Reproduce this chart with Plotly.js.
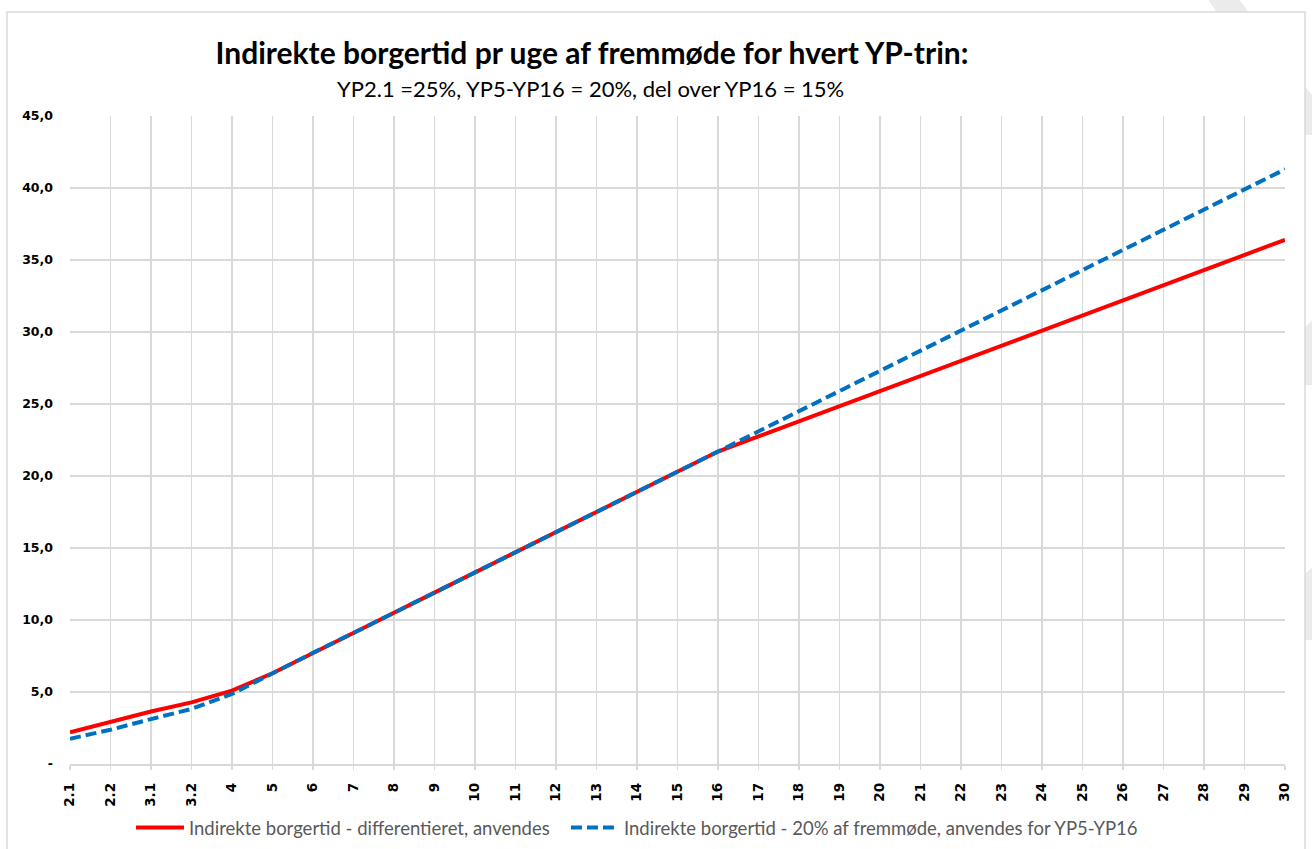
<!DOCTYPE html>
<html>
<head>
<meta charset="utf-8">
<script src="https://cdn.plot.ly/plotly-3.0.1.min.js"></script>
<style>
  html, body { margin: 0; padding: 0; background: #ffffff; }
  #chart { width: 1312px; height: 849px; }
</style>
</head>
<body>
<div id="chart"></div>
<script>
// ---- data ----
const categories = ["2.1","2.2","3.1","3.2","4","5","6","7","8","9","10","11","12","13","14","15","16","17","18","19","20","21","22","23","24","25","26","27","28","29","30"];
const redName = "Indirekte borgertid - differentieret, anvendes";
const redValues = [2.2, 2.95, 3.65, 4.28, 5.1, 6.3, 7.72, 9.1, 10.5, 11.9, 13.3, 14.7, 16.1, 17.5, 18.9, 20.3, 21.7, 22.75, 23.8, 24.85, 25.9, 26.95, 28.0, 29.05, 30.1, 31.15, 32.2, 33.25, 34.3, 35.35, 36.4];
const blueName = "Indirekte borgertid - 20% af fremmøde, anvendes for YP5-YP16";
const blueValues = [1.75, 2.38, 3.12, 3.82, 4.86, 6.3, 7.72, 9.1, 10.5, 11.9, 13.3, 14.7, 16.1, 17.5, 18.9, 20.3, 21.7, 23.1, 24.5, 25.9, 27.3, 28.7, 30.1, 31.5, 32.9, 34.3, 35.7, 37.1, 38.5, 39.9, 41.3];
const yTickValues = [0, 5, 10, 15, 20, 25, 30, 35, 40, 45];
const yTickLabels = ["-", "5,0", "10,0", "15,0", "20,0", "25,0", "30,0", "35,0", "40,0", "45,0"];
const titleText = "Indirekte borgertid pr uge af fremmøde for hvert YP-trin:";
const subtitleText = "YP2.1 =25%, YP5-YP16 = 20%, del over YP16 = 15%";

// ---- layout helpers (decoration only) ----
const W = 1312, H = 849;
const M = { l: 70, r: 27, t: 116, b: 85 };
const PW = W - M.l - M.r, PH = H - M.t - M.b;
const px = x => (x - M.l) / PW;
const py = y => (H - M.b - y) / PH;
function path(pts) {
  return pts.map((p, i) => (i ? "L" : "M") + px(p[0]).toFixed(5) + "," + py(p[1]).toFixed(5)).join(" ") + " Z";
}

const wm = "#ebebeb";
const shapes = [
  { type: "path", xref: "paper", yref: "paper", layer: "below", line: { width: 0 }, fillcolor: wm,
    path: path([[1207, -2], [1238, -2], [1312, 95], [1312, 135], [1300, 135]]) },
  { type: "path", xref: "paper", yref: "paper", layer: "below", line: { width: 0 }, fillcolor: wm,
    path: path([[1312, 320], [1312, 385], [1303, 385], [1303, 330]]) },
  { type: "path", xref: "paper", yref: "paper", layer: "below", line: { width: 0 }, fillcolor: wm,
    path: path([[1303, 575], [1312, 568], [1312, 640], [1303, 640]]) },
  { type: "rect", xref: "paper", yref: "paper", layer: "below",
    x0: px(7), x1: px(1305), y0: py(12), y1: py(870),
    line: { color: "#d9d9d9", width: 1.5 }, fillcolor: "#ffffff" }
];

const traces = [
  { type: "scatter", mode: "lines", name: redName, x: categories, y: redValues,
    line: { color: "#ff0000", width: 4 }, legend: "legend" },
  { type: "scatter", mode: "lines", name: blueName, x: categories, y: blueValues,
    line: { color: "#0070c0", width: 4, dash: "11px,5px" }, legend: "legend2" }
];

const legendFont = { family: "Lato, sans-serif", size: 18.5, color: "#595959" };

const layout = {
  width: W, height: H,
  margin: M,
  paper_bgcolor: "#ffffff",
  plot_bgcolor: "#ffffff",
  showlegend: true,
  title: {
    text: "<b>" + titleText + "</b>",
    font: { family: "Lato, sans-serif", size: 30, color: "#000000" },
    x: 592 / W, xanchor: "center", xref: "container",
    y: 1 - 53 / H, yanchor: "middle", yref: "container"
  },
  annotations: [
    { text: subtitleText, xref: "paper", yref: "paper", x: px(590), y: py(88),
      xanchor: "center", yanchor: "middle", showarrow: false,
      font: { family: "Lato, sans-serif", size: 22, color: "#000000" } }
  ],
  xaxis: {
    type: "category",
    range: [0, categories.length - 1],
    automargin: false,
    tickangle: -90,
    ticks: "outside", ticklen: 4, tickcolor: "#d9d9d9", tickwidth: 1.5,
    minor: { ticks: "outside", ticklen: 4, tickcolor: "#d9d9d9", tickwidth: 1.5, showgrid: false },
    ticklabelstandoff: 8,
    showgrid: true, gridcolor: "#d9d9d9", gridwidth: 1.5,
    showline: true, linecolor: "#d9d9d9", linewidth: 1.5,
    zeroline: false,
    tickfont: { family: "DejaVu Sans, sans-serif", size: 13.5, color: "#000000", weight: "bold" },
    fixedrange: true
  },
  yaxis: {
    range: [0, 45],
    automargin: false,
    tickvals: yTickValues, ticktext: yTickLabels,
    ticks: "", showgrid: true, gridcolor: "#d9d9d9", gridwidth: 1.5,
    zeroline: false, showline: false,
    ticklabelstandoff: 16,
    tickfont: { family: "DejaVu Sans, sans-serif", size: 12.5, color: "#000000", weight: "bold" },
    fixedrange: true
  },
  legend: {
    orientation: "h",
    xref: "container", yref: "container",
    x: 131 / W, xanchor: "left",
    y: 1 - 828 / H, yanchor: "middle",
    font: legendFont,
    itemwidth: 48,
    bgcolor: "rgba(0,0,0,0)"
  },
  legend2: {
    orientation: "h",
    xref: "container", yref: "container",
    x: 566 / W, xanchor: "left",
    y: 1 - 828 / H, yanchor: "middle",
    font: legendFont,
    itemwidth: 48,
    bgcolor: "rgba(0,0,0,0)"
  },
  shapes: shapes
};

Plotly.newPlot("chart", traces, layout, { displayModeBar: false, staticPlot: true });
</script>
</body>
</html>
